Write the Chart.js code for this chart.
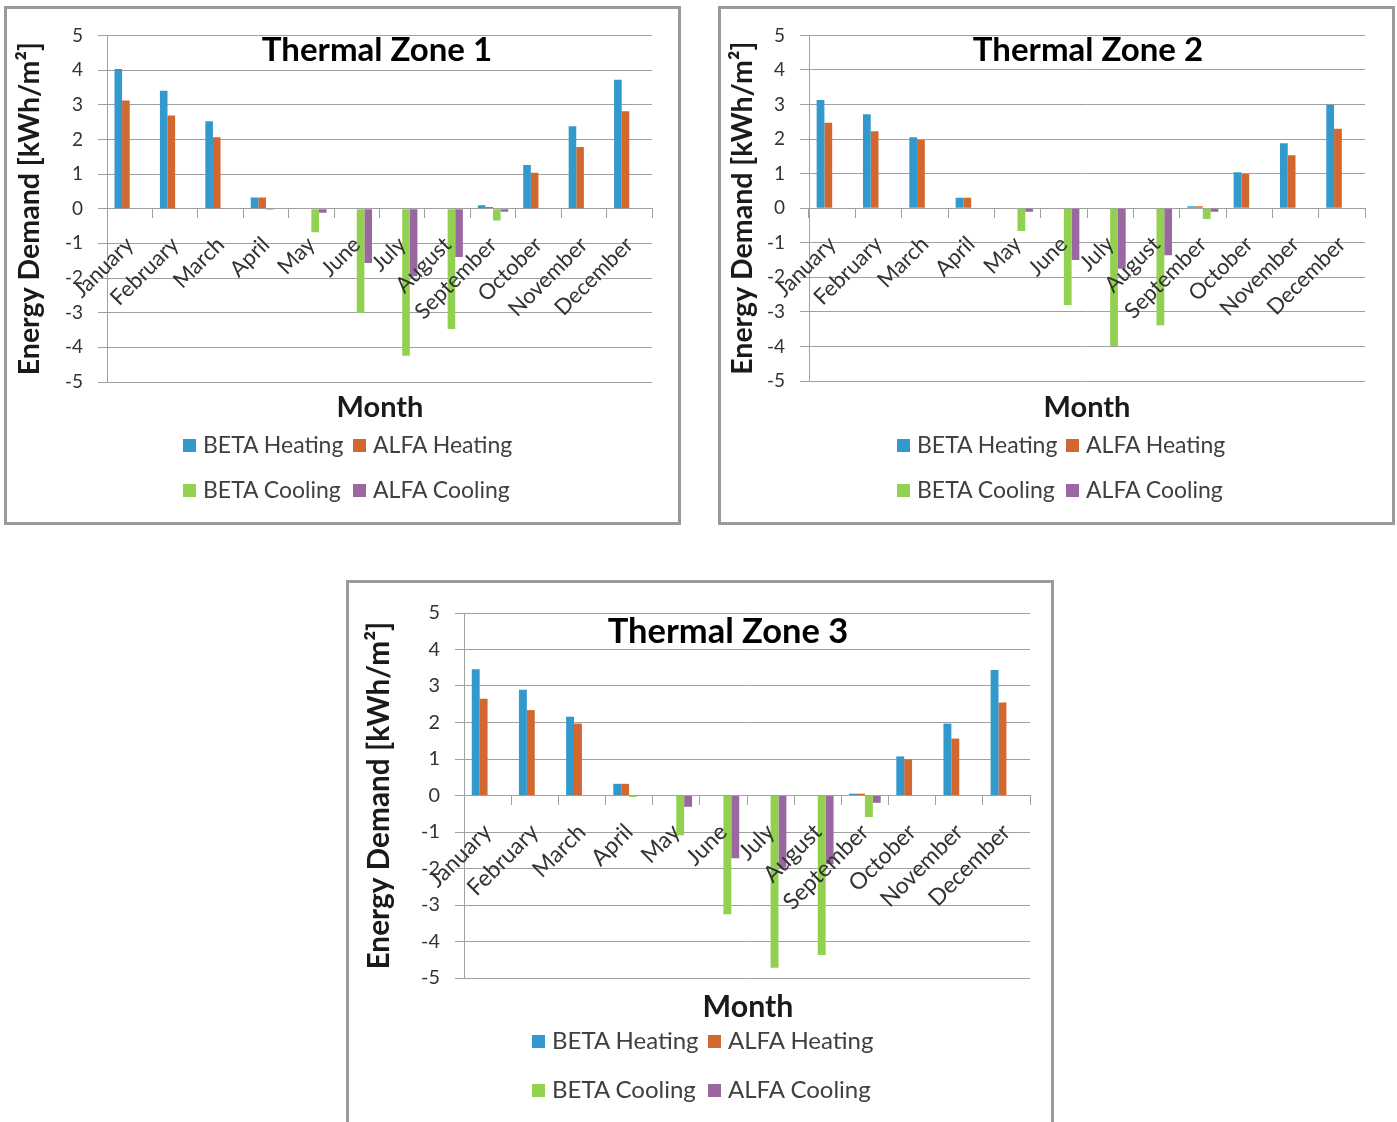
<!DOCTYPE html>
<html>
<head>
<meta charset="utf-8">
<title>Thermal Zones - Energy Demand</title>
<script src="https://cdn.jsdelivr.net/npm/chart.js@4.4.0/dist/chart.umd.min.js"></script>
<style>
  body { margin: 0; background: #fff; width: 1397px; height: 1122px; overflow: hidden; position: relative; font-family: Lato, sans-serif; }
  .panel { position: absolute; border: 3px solid #9a9a9a; background: #fff; }
  .panel canvas { position: absolute; left: 0; top: 0; }
  .ttl { position: absolute; width: 400px; text-align: center; font-weight: bold; line-height: 40px; color: #000; }
  .xt { position: absolute; width: 200px; text-align: center; font-weight: bold; line-height: 36px; color: #1a1a1a; }
  .lbox { position: absolute; width: 13px; height: 13px; }
  .ltxt { position: absolute; line-height: 28px; color: #404040; white-space: nowrap; }
</style>
</head>
<body>

<div class="panel" style="left:4px;top:6px;width:671px;height:513px"><canvas id="zone1" width="671" height="513"></canvas></div>
<div class="panel" style="left:718px;top:6px;width:671px;height:513px"><canvas id="zone2" width="671" height="513"></canvas></div>
<div class="panel" style="left:346px;top:580px;width:702px;height:554px"><canvas id="zone3" width="702" height="554"></canvas></div>

<script>
// data (kWh/m2)
var months = ["January", "February", "March", "April", "May", "June", "July", "August", "September", "October", "November", "December"];
var seriesNames = ["BETA Heating", "ALFA Heating", "BETA Cooling", "ALFA Cooling"];
var seriesColors = ["#3399cc", "#d2682f", "#92d050", "#9a67a0"];
var zoneTitles = ["Thermal Zone 1", "Thermal Zone 2", "Thermal Zone 3"];

var zone1BetaHeating = [4.03, 3.40, 2.52, 0.32, 0, 0, 0, 0, 0.10, 1.26, 2.38, 3.72];
var zone1AlfaHeating = [3.12, 2.69, 2.06, 0.32, 0, 0, 0, 0, 0.05, 1.04, 1.78, 2.81];
var zone1BetaCooling = [0, 0, 0, -0.04, -0.68, -3.01, -4.24, -3.47, -0.34, 0, 0, 0];
var zone1AlfaCooling = [0, 0, 0, 0, -0.12, -1.57, -1.95, -1.39, -0.09, 0, 0, 0];

var zone2BetaHeating = [3.13, 2.72, 2.05, 0.30, 0, 0, 0, 0, 0.06, 1.04, 1.88, 2.99];
var zone2AlfaHeating = [2.47, 2.23, 1.97, 0.30, 0, 0, 0, 0, 0.06, 0.99, 1.53, 2.30];
var zone2BetaCooling = [0, 0, 0, 0, -0.66, -2.80, -3.99, -3.39, -0.31, 0, 0, 0];
var zone2AlfaCooling = [0, 0, 0, 0, -0.10, -1.50, -1.75, -1.36, -0.10, 0, 0, 0];

var zone3BetaHeating = [3.46, 2.90, 2.16, 0.32, 0, 0, 0, 0, 0.05, 1.07, 1.97, 3.44];
var zone3AlfaHeating = [2.65, 2.34, 1.97, 0.32, 0, 0, 0, 0, 0.05, 0.99, 1.56, 2.55];
var zone3BetaCooling = [0, 0, 0, -0.04, -1.09, -3.25, -4.72, -4.37, -0.59, 0, 0, 0];
var zone3AlfaCooling = [0, 0, 0, 0, -0.31, -1.72, -1.98, -1.88, -0.20, 0, 0, 0];

// panel layout: chart padding, y axis width, font scale, text positions (page px)
var panels = [
  { id: "zone1", pad: { left: 2, top: 24, right: 26, bottom: 140 }, yw: 98, fs: 1,
    title: [377, 48], month: [380, 406], legX: [183, 353], legY: [445, 490],
    series: [zone1BetaHeating, zone1AlfaHeating, zone1BetaCooling, zone1AlfaCooling] },
  { id: "zone2", pad: { left: 1, top: 22, right: 27, bottom: 141 }, yw: 87, fs: 1,
    title: [1088, 48], month: [1087, 406], legX: [897, 1066], legY: [445, 490],
    series: [zone2BetaHeating, zone2AlfaHeating, zone2BetaCooling, zone2AlfaCooling] },
  { id: "zone3", pad: { left: 9, top: 30, right: 21, bottom: 159 }, yw: 106, fs: 1.045,
    title: [728, 630], month: [748, 1005], legX: [532, 708], legY: [1041, 1090],
    series: [zone3BetaHeating, zone3AlfaHeating, zone3BetaCooling, zone3AlfaCooling] }
];

var gridGray = "#a0a0a0";

function addText(cls, txt, x, y, size) {
  var d = document.createElement("div");
  d.className = cls;
  d.textContent = txt;
  d.style.left = x + "px";
  d.style.top = y + "px";
  d.style.fontSize = size + "px";
  document.body.appendChild(d);
  return d;
}

function drawZone(p, n) {
  var datasets = [];
  for (var i = 0; i < seriesNames.length; i++) {
    datasets.push({
      label: seriesNames[i],
      data: p.series[i],
      backgroundColor: seriesColors[i],
      categoryPercentage: 0.67,
      barPercentage: 1
    });
  }

  new Chart(document.getElementById(p.id), {
    type: "bar",
    data: { labels: months, datasets: datasets },
    options: {
      responsive: false,
      animation: false,
      layout: { padding: p.pad },
      plugins: { legend: { display: false }, tooltip: { enabled: false } },
      scales: {
        x: {
          position: { y: 0 },
          offset: true,
          grid: { offset: true, drawOnChartArea: false, drawTicks: true, tickLength: 9, color: gridGray },
          border: { display: true, color: gridGray },
          ticks: { autoSkip: false, minRotation: 45, maxRotation: 45, padding: 14, z: 1,
                   font: { family: "Lato", size: 22 * p.fs }, color: "#333" }
        },
        y: {
          min: -5, max: 5,
          ticks: { stepSize: 1, padding: 15, font: { family: "Lato", size: 19 * p.fs }, color: "#333" },
          grid: { color: gridGray, tickLength: 9 },
          border: { color: gridGray },
          title: { display: true, text: "Energy Demand [kWh/m²]", color: "#1a1a1a",
                   font: { family: "Lato", size: 28.5 * p.fs, weight: "bold" }, padding: { top: 4, bottom: 0 } },
          afterFit: function (s) { s.width = p.yw; }
        }
      }
    }
  });

  addText("ttl", zoneTitles[n], p.title[0] - 200, p.title[1] - 20, 33 * p.fs);
  addText("xt", "Month", p.month[0] - 100, p.month[1] - 18, 29 * p.fs);

  // legend, 2 x 2
  for (var k = 0; k < seriesNames.length; k++) {
    var lx = p.legX[k % 2], ly = p.legY[Math.floor(k / 2)];
    var b = document.createElement("div");
    b.className = "lbox";
    b.style.left = lx + "px";
    b.style.top = (ly - 6) + "px";
    b.style.background = seriesColors[k];
    document.body.appendChild(b);
    addText("ltxt", seriesNames[k], lx + 20, ly - 15, 23 * p.fs);
  }
}

panels.forEach(drawZone);
</script>
</body>
</html>
